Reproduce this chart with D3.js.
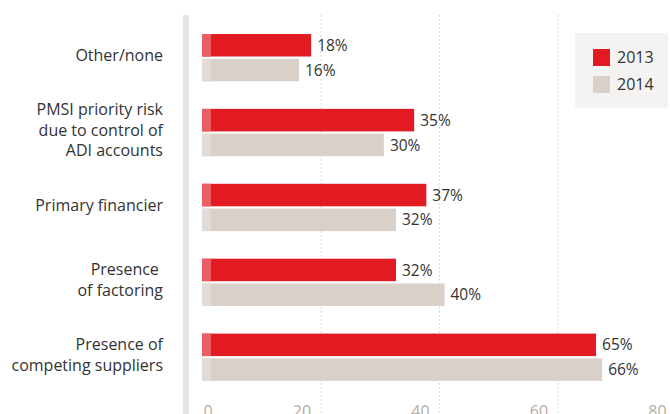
<!DOCTYPE html>
<html>
<head>
<meta charset="utf-8">
<script src="https://cdn.jsdelivr.net/npm/d3@7"></script>
<style>
  html, body { margin: 0; padding: 0; background: #fff; }
  svg { display: block; font-family: "Open Sans", Lato, sans-serif; }
</style>
</head>
<body>
<svg id="chart" width="670" height="414"></svg>
<script>
// Reasons cited, share of respondents by year
const categories = [
  ["Other/none"],
  ["PMSI priority risk", "due to control of", "ADI accounts"],
  ["Primary financier"],
  ["Presence ", "of factoring"],
  ["Presence of", "competing suppliers"]
];
const values2013 = [18, 35, 37, 32, 65];
const values2014 = [16, 30, 32, 40, 66];
const seriesNames = ["2013", "2014"];
const tickValues = [0, 20, 40, 60, 80];

const colors = { "2013": "#e21b23", "2014": "#d9d0ca" };
const capColors = { "2013": "#ea5d64", "2014": "#e2dcd8" };

const svg = d3.select("#chart");

// bar length scale and a gridline scale for the axis
const x = d3.scaleLinear().domain([0, 80]).range([202, 687]);
const grid = d3.scaleLinear().domain([0, 80]).range([202.5, 676.5]);

const y = d3.scaleBand().domain(d3.range(categories.length)).range([34, 408.5]).paddingInner(0).paddingOuter(0);
const barH = 22.5, barGap = 2.3;

// left rule
svg.append("rect").attr("x", 183).attr("y", 15).attr("width", 6).attr("height", 414 - 15)
  .attr("fill", "#e8e5e0");

// dotted gridlines
svg.append("g").selectAll("line").data(tickValues.filter(d => d > 0)).join("line")
  .attr("x1", d => grid(d)).attr("x2", d => grid(d))
  .attr("y1", 15).attr("y2", 414)
  .attr("stroke", "#cfcfcf").attr("stroke-width", 1).attr("stroke-dasharray", "1.5,2.5");

// tick labels
svg.append("g").selectAll("text").data(tickValues).join("text")
  .attr("x", d => d === 0 ? grid(d) + 5.5 : grid(d) - 19)
  .attr("y", 417)
  .attr("text-anchor", "middle")
  .attr("font-size", 16)
  .attr("fill", "#b6aca4")
  .text(d => d);

const series = [
  { name: "2013", vals: values2013, off: 0 },
  { name: "2014", vals: values2014, off: barH + barGap }
];

series.forEach(s => {
  const g = svg.append("g");
  const rows = s.vals.map((v, i) => ({ v, i }));
  g.selectAll("rect.bar").data(rows).join("rect")
    .attr("class", "bar")
    .attr("x", x(0)).attr("y", d => y(d.i) + s.off)
    .attr("width", d => x(d.v) - x(0)).attr("height", barH)
    .attr("fill", colors[s.name]);
  g.selectAll("rect.cap").data(rows).join("rect")
    .attr("class", "cap")
    .attr("x", x(0)).attr("y", d => y(d.i) + s.off)
    .attr("width", 9).attr("height", barH)
    .attr("fill", capColors[s.name]);
  g.selectAll("text").data(rows).join("text")
    .attr("x", d => x(d.v) + 6)
    .attr("y", d => y(d.i) + s.off + barH / 2)
    .attr("dy", "0.36em")
    .attr("font-size", 15.5)
    .attr("fill", "#333")
    .text(d => d.v + "%");
});

// category labels
const lineH = 20.5;
const labels = svg.append("g").selectAll("text").data(categories).join("text")
  .attr("text-anchor", "end")
  .attr("font-size", 16)
  .attr("fill", "#333")
  .style("white-space", "pre");
labels.each(function(lines, i) {
  const cy = y(i) + barH + barGap / 2 - 2.5;
  const t = d3.select(this);
  lines.forEach((ln, k) => {
    t.append("tspan")
      .attr("x", 163)
      .attr("y", cy + (k - (lines.length - 1) / 2) * lineH)
      .attr("dy", "0.36em")
      .text(ln);
  });
});

// legend
const legend = svg.append("g");
legend.append("rect").attr("x", 575).attr("y", 33).attr("width", 93).attr("height", 75)
  .attr("fill", "#f5f3f1");
seriesNames.forEach((n, k) => {
  legend.append("rect").attr("x", 593).attr("y", 49 + k * 27).attr("width", 17).attr("height", 17)
    .attr("fill", colors[n]);
  legend.append("text").attr("x", 617).attr("y", 49 + k * 27 + 8.5).attr("dy", "0.36em")
    .attr("font-size", 16).attr("fill", "#333").text(n);
});
</script>
</body>
</html>
